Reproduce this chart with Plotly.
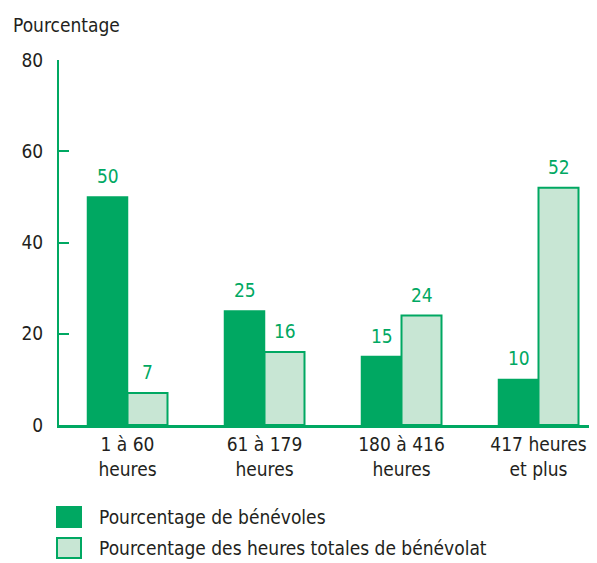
import plotly.graph_objects as go

categories = ["1 à 60<br>heures", "61 à 179<br>heures", "180 à 416<br>heures", "417 heures<br>et plus"]
series_names = ["Pourcentage de bénévoles", "Pourcentage des heures totales de bénévolat"]
benevoles = [50, 25, 15, 10]
heures = [7, 16, 24, 52]
y_ticks = [0, 20, 40, 60, 80]

GREEN = "#00a862"
LIGHT = "#c8e6d4"
FONT = "DejaVu Sans Condensed, Roboto, Arial"
FS = 19
TXT = "#231f20"

fig = go.Figure()
fig.add_trace(go.Bar(x=categories, y=benevoles, name=series_names[0],
                     marker=dict(color=GREEN, line=dict(color=GREEN, width=1.5))))
fig.add_trace(go.Bar(x=categories, y=heures, name=series_names[1],
                     marker=dict(color=LIGHT, line=dict(color=GREEN, width=2))))

for vals, dx in ((benevoles, -20), (heures, 20)):
    for c, v in zip(categories, vals):
        fig.add_annotation(x=c, y=v, text=str(v), xshift=dx, yshift=8,
                           yanchor="bottom", showarrow=False,
                           font=dict(color=GREEN, size=FS, family=FONT))

fig.update_layout(
    width=597, height=563,
    margin=dict(l=51, r=8, t=52, b=146),
    paper_bgcolor="white", plot_bgcolor="white",
    barmode="group", bargap=0.416, bargroupgap=0,
    showlegend=False,
    font=dict(family=FONT, size=FS, color=TXT),
    xaxis=dict(range=[-0.5, 3.427], showline=True, linecolor=GREEN, linewidth=3,
               ticks="", tickfont=dict(size=FS, family=FONT, color=TXT),
               showgrid=False, zeroline=False),
    yaxis=dict(range=[0, 80], tickvals=y_ticks, showline=True, linecolor=GREEN, linewidth=2,
               ticks="inside", ticklen=10, tickwidth=2, tickcolor=GREEN,
               ticklabelstandoff=10,
               tickfont=dict(size=FS, family=FONT, color=TXT),
               showgrid=False, zeroline=False),
)

fig.add_annotation(text="Pourcentage", xref="paper", yref="paper",
                   x=-48/538, y=1 + 35/365, xanchor="left", yanchor="middle",
                   showarrow=False, font=dict(size=FS, family=FONT, color=TXT))

# legend drawn manually
leg_rows = [(517, GREEN), (548, LIGHT)]
for (cy, col), name in zip(leg_rows, series_names):
    fig.add_shape(type="rect", xref="paper", yref="paper",
                  x0=(57 - 59) / 538, x1=(81 - 59) / 538,
                  y0=(425 - (cy + 10)) / 365, y1=(425 - (cy - 10)) / 365,
                  fillcolor=col, line=dict(color=GREEN, width=2))
    fig.add_annotation(text=name, xref="paper", yref="paper",
                       x=(97 - 59) / 538, y=(425 - cy) / 365,
                       xanchor="left", yanchor="middle", showarrow=False,
                       font=dict(size=FS, family=FONT, color=TXT))

fig.write_html("out.html")
